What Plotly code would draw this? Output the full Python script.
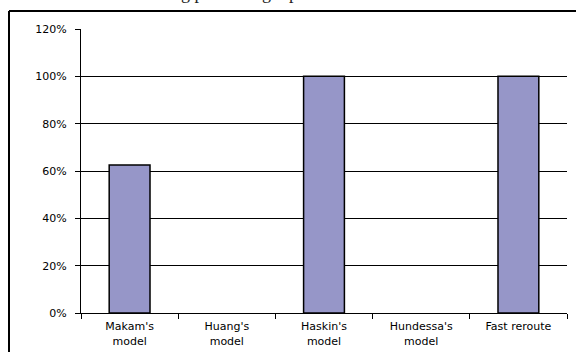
import plotly.graph_objects as go

categories = ["Makam's<br>model", "Huang's<br>model", "Haskin's<br>model",
              "Hundessa's<br>model", "Fast reroute"]
values = [0.625, 0.0, 1.0, 0.0, 1.0]
y_ticks = [0, 0.2, 0.4, 0.6, 0.8, 1.0, 1.2]
y_tick_labels = ["0%", "20%", "40%", "60%", "80%", "100%", "120%"]

W, H = 576, 352
# page frame (outer border) starts at left=9, top=11 and runs off right/bottom
ML, MT = 9, 11
PW, PH = W - ML, H - MT
# plot area in pixels
PL, PR, PT, PB = 81, 567, 29, 313

x_dom = [(PL - ML) / PW, (PR - ML) / PW]
y_dom = [(H - PB) / PH, (H - PT) / PH]

line_widths = [1.5 if v > 0 else 0 for v in values]

fig = go.Figure()
fig.add_trace(go.Bar(
    x=categories, y=values,
    marker=dict(color="#9696C8", line=dict(color="#000000", width=line_widths)),
    width=0.42, xaxis="x", yaxis="y",
))
# empty trace only to create the frame subplot
fig.add_trace(go.Scatter(x=[], y=[], xaxis="x2", yaxis="y2",
                         showlegend=False, hoverinfo="skip"))

font_family = "DejaVu Sans, Arial, sans-serif"

fig.update_layout(
    width=W, height=H,
    margin=dict(l=ML, r=0, t=MT, b=0, pad=0, autoexpand=False),
    paper_bgcolor="white", plot_bgcolor="rgba(0,0,0,0)",
    showlegend=False,
    font=dict(family=font_family, size=11, color="black"),
    xaxis=dict(
        domain=x_dom, anchor="y",
        showline=True, linecolor="black", linewidth=1,
        ticks="outside", tickson="boundaries", ticklen=5, tickcolor="black",
        showgrid=False, tickfont=dict(size=11, family=font_family),
        ticklabelstandoff=3, automargin=False,
    ),
    yaxis=dict(
        domain=y_dom, anchor="x",
        range=[0, 1.2], tickvals=y_ticks, ticktext=y_tick_labels,
        showline=True, linecolor="black", linewidth=1,
        ticks="outside", ticklen=5, tickcolor="black",
        showgrid=True, gridcolor="black", gridwidth=1,
        zeroline=False, tickfont=dict(size=11, family=font_family),
        ticklabelstandoff=6, automargin=False,
    ),
    xaxis2=dict(
        domain=[0, 1], anchor="free", position=1, side="top",
        range=[0, 1], showline=True, linecolor="black", linewidth=2,
        showticklabels=False, ticks="", showgrid=False, zeroline=False,
        automargin=False,
    ),
    yaxis2=dict(
        domain=[0, 1], anchor="free", position=0, side="left",
        range=[0, 1], showline=True, linecolor="black", linewidth=2,
        showticklabels=False, ticks="", showgrid=False, zeroline=False,
        automargin=False,
    ),
    annotations=[
        dict(text="ded model as the routing plane.  Fig 6 presents these results.",
             xref="paper", yref="paper",
             x=(10 - ML) / PW, y=(H - 5) / PH,
             xanchor="left", yanchor="bottom", showarrow=False,
             font=dict(family="Liberation Serif, Times New Roman, serif", size=18,
                       color="#222222")),
    ],
)

fig.write_html("out.html")
